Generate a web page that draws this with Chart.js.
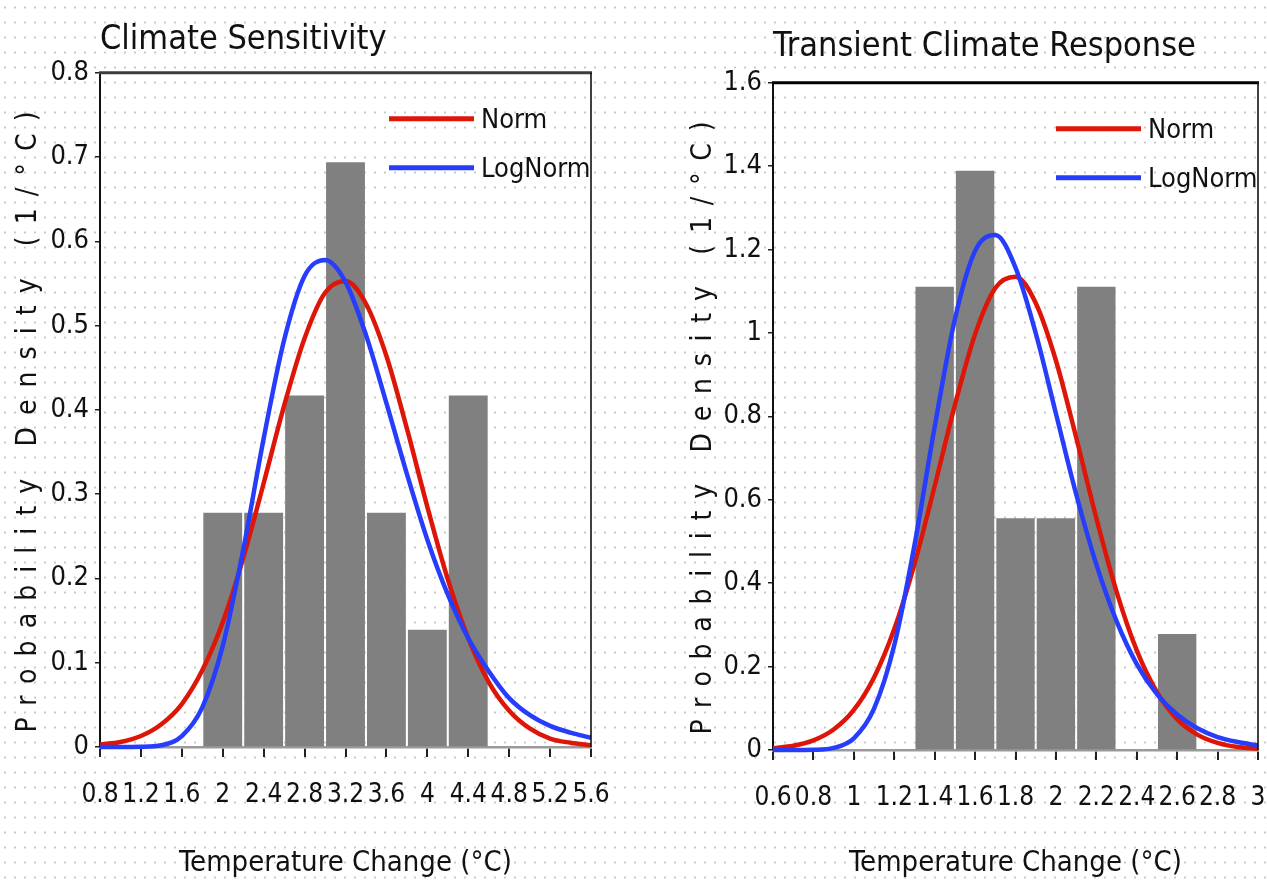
<!DOCTYPE html>
<html>
<head>
<meta charset="utf-8">
<title>Climate Sensitivity / Transient Climate Response</title>
<script src="https://cdn.jsdelivr.net/npm/chart.js@4.4.1/dist/chart.umd.min.js"></script>
<style>
  html, body { margin: 0; padding: 0; }
  body {
    width: 1267px; height: 886px; overflow: hidden; position: relative;
    background-color: #fff;
    background-image: radial-gradient(circle, #c8c8c8 0.9px, transparent 1.3px);
    background-size: 10px 15px;
  }
  .panel { position: absolute; top: 0; height: 886px; }
  #panelCS { left: 0; width: 633px; }
  #panelTCR { left: 633px; width: 634px; }
</style>
</head>
<body>
<div class="panel" id="panelCS"><canvas id="chartCS"></canvas></div>
<div class="panel" id="panelTCR"><canvas id="chartTCR"></canvas></div>
<script>
// Climate sensitivity: histogram (bin centres, 0.4 wide) and fitted curves
const csBinCenters = [2.0, 2.4, 2.8, 3.2, 3.6, 4.0, 4.4];
const csDensity = [0.278, 0.278, 0.417, 0.694, 0.278, 0.139, 0.417];
const csCurveX = [0.8, 1.0, 1.2, 1.4, 1.6, 1.8, 2.0, 2.2, 2.4, 2.6, 2.8, 3.0, 3.2,
                  3.4, 3.6, 3.8, 4.0, 4.2, 4.4, 4.6, 4.8, 5.0, 5.2, 5.4, 5.6];
const csNorm = [0.003, 0.006, 0.013, 0.027, 0.051, 0.091, 0.148, 0.224, 0.313, 0.405, 0.485, 0.539, 0.553,
                0.526, 0.464, 0.378, 0.285, 0.199, 0.129, 0.077, 0.043, 0.022, 0.010, 0.005, 0.002];
const csLogNorm = [0, 0, 0.0002, 0.002, 0.013, 0.047, 0.120, 0.234, 0.366, 0.483, 0.559, 0.578, 0.552,
                   0.489, 0.408, 0.324, 0.246, 0.181, 0.129, 0.090, 0.058, 0.038, 0.025, 0.017, 0.011];
const csXTicks = [0.8, 1.2, 1.6, 2.0, 2.4, 2.8, 3.2, 3.6, 4.0, 4.4, 4.8, 5.2, 5.6];
const csYTicks = [0, 0.1, 0.2, 0.3, 0.4, 0.5, 0.6, 0.7, 0.8];

// Transient climate response: histogram (bin centres, 0.2 wide) and fitted curves
const tcrBinCenters = [1.4, 1.6, 1.8, 2.0, 2.2, 2.4, 2.6];
const tcrDensity = [1.111, 1.389, 0.556, 0.556, 1.111, 0, 0.278];
const tcrCurveX = [0.6, 0.7, 0.8, 0.9, 1.0, 1.1, 1.2, 1.3, 1.4, 1.5, 1.6, 1.7, 1.8,
                   1.9, 2.0, 2.1, 2.2, 2.3, 2.4, 2.5, 2.6, 2.7, 2.8, 2.9, 3.0];
const tcrNorm = [0.004, 0.010, 0.023, 0.049, 0.096, 0.174, 0.290, 0.446, 0.633, 0.827, 0.997, 1.108, 1.135,
                 1.072, 0.934, 0.750, 0.556, 0.380, 0.239, 0.139, 0.074, 0.037, 0.017, 0.007, 0.003];
const tcrLogNorm = [0, 0, 0.0005, 0.005, 0.028, 0.099, 0.251, 0.491, 0.775, 1.033, 1.197, 1.235, 1.157,
                    1.000, 0.807, 0.614, 0.445, 0.309, 0.206, 0.134, 0.085, 0.052, 0.031, 0.019, 0.011];
const tcrXTicks = [0.6, 0.8, 1.0, 1.2, 1.4, 1.6, 1.8, 2.0, 2.2, 2.4, 2.6, 2.8, 3.0];
const tcrYTicks = [0, 0.2, 0.4, 0.6, 0.8, 1.0, 1.2, 1.4, 1.6];

const FONT = "'DejaVu Sans Condensed', 'Liberation Sans Narrow', 'Liberation Sans', sans-serif";
const RED = 'rgb(222, 22, 8)';
const BLUE = 'rgb(38, 62, 252)';
const fmt = v => String(Number(v.toFixed(1)));

// top/right frame, legend inside the plot, spaced-out y title
const decorPlugin = {
    id: 'decor',
    afterDatasetsDraw(chart, args, opts) {
        const ctx = chart.ctx;
        const a = chart.chartArea;
        ctx.save();
        ctx.lineCap = 'butt';
        ctx.strokeStyle = opts.topColor;
        ctx.lineWidth = 3;
        ctx.beginPath(); ctx.moveTo(a.left - 1, a.top); ctx.lineTo(a.right + 1, a.top); ctx.stroke();
        ctx.strokeStyle = '#111';
        ctx.lineWidth = 1.6;
        ctx.beginPath(); ctx.moveTo(a.right, a.top); ctx.lineTo(a.right, a.bottom); ctx.stroke();

        // legend, in dataset order (Norm first)
        const lines = chart.data.datasets.filter(d => d.type === 'line');
        ctx.font = '27px ' + FONT;
        ctx.textBaseline = 'middle';
        ctx.textAlign = 'left';
        lines.forEach((d, i) => {
            const y = a.top + opts.legendTop + i * 49;
            ctx.strokeStyle = d.borderColor;
            ctx.lineWidth = 5;
            ctx.beginPath(); ctx.moveTo(a.right - 202, y); ctx.lineTo(a.right - 117, y); ctx.stroke();
            ctx.fillStyle = '#111';
            ctx.fillText(d.label, a.right - 110, y + 2);
        });
        ctx.restore();
    },
    afterDraw(chart, args, opts) {
        const ctx = chart.ctx;
        const text = 'Probability Density (1/°C)';
        ctx.save();
        ctx.font = '28px ' + FONT;
        ctx.fillStyle = '#111';
        ctx.textBaseline = 'middle';
        ctx.textAlign = 'left';
        const w = ctx.measureText(text).width;
        const gap = (opts.titleLength - w) / (text.length - 1);
        if ('letterSpacing' in ctx) ctx.letterSpacing = gap + 'px';
        ctx.translate(opts.titleX, opts.titleY);
        ctx.rotate(-Math.PI / 2);
        ctx.fillText(text, -opts.titleLength / 2, 0);
        ctx.restore();
    }
};

function makeChart(canvasId, p) {
    const ctx = document.getElementById(canvasId).getContext('2d');
    return new Chart(ctx, {
        type: 'line',
        data: {
            datasets: [
                {
                    type: 'line',
                    label: 'Norm',
                    data: p.curveX.map((x, i) => ({ x: x, y: p.norm[i] })),
                    borderColor: RED,
                    borderWidth: 4.5,
                    pointRadius: 0,
                    cubicInterpolationMode: 'monotone',
                    clip: 8,
                    order: 2
                },
                {
                    type: 'line',
                    label: 'LogNorm',
                    data: p.curveX.map((x, i) => ({ x: x, y: p.logNorm[i] })),
                    borderColor: BLUE,
                    borderWidth: 4.5,
                    pointRadius: 0,
                    cubicInterpolationMode: 'monotone',
                    clip: 8,
                    order: 1
                },
                {
                    type: 'bar',
                    label: 'Histogram',
                    data: p.binCenters.map((x, i) => ({ x: x, y: p.density[i] })),
                    backgroundColor: 'rgb(128, 128, 128)',
                    borderWidth: 0,
                    barPercentage: 0.95,
                    categoryPercentage: 1.0,
                    order: 3
                }
            ]
        },
        options: {
            responsive: true,
            maintainAspectRatio: false,
            animation: false,
            devicePixelRatio: 1,
            layout: { padding: { left: 0, right: p.padRight, top: 0, bottom: 0 } },
            plugins: {
                legend: { display: false },
                tooltip: { enabled: false },
                title: {
                    display: true,
                    text: p.title,
                    align: 'start',
                    fullSize: false,
                    color: '#111',
                    font: { family: FONT, size: 34, weight: 'normal' },
                    padding: { top: p.titleTop, bottom: p.titleBottom }
                },
                decor: {
                    topColor: p.topColor,
                    legendTop: 46,
                    titleX: p.yTitleX,
                    titleY: p.yTitleY,
                    titleLength: p.yTitleLength
                }
            },
            scales: {
                x: {
                    type: 'linear',
                    min: p.xTicks[0],
                    max: p.xTicks[p.xTicks.length - 1],
                    offset: false,
                    afterBuildTicks: s => { s.ticks = p.xTicks.map(v => ({ value: v })); },
                    afterFit: s => { s.height = p.xHeight; s.paddingLeft = 0; s.paddingRight = 0; },
                    border: { display: true, color: '#9a9a9a', width: 2.5 },
                    grid: { drawOnChartArea: false, drawTicks: true, tickLength: 10, color: '#222', lineWidth: 2, offset: false },
                    ticks: {
                        autoSkip: false, maxRotation: 0, minRotation: 0, padding: 23,
                        color: '#111', font: { family: FONT, size: 26 },
                        callback: v => fmt(v)
                    },
                    title: {
                        display: true,
                        text: 'Temperature Change (°C)',
                        color: '#111',
                        font: { family: FONT, size: 29 },
                        padding: { top: 0, bottom: 5 }
                    }
                },
                y: {
                    type: 'linear',
                    min: 0,
                    max: p.yTicks[p.yTicks.length - 1],
                    afterBuildTicks: s => { s.ticks = p.yTicks.map(v => ({ value: v })); },
                    afterFit: s => { s.width = p.yWidth; },
                    border: { display: true, color: '#111', width: 2 },
                    grid: { drawOnChartArea: false, drawTicks: true, tickLength: 5, color: '#222', lineWidth: 1.5 },
                    ticks: {
                        padding: 6, color: '#111', font: { family: FONT, size: 27 },
                        callback: v => fmt(v)
                    }
                }
            }
        },
        plugins: [decorPlugin]
    });
}

const chartCS = makeChart('chartCS', {
    title: 'Climate Sensitivity',
    binCenters: csBinCenters, density: csDensity,
    curveX: csCurveX, norm: csNorm, logNorm: csLogNorm,
    xTicks: csXTicks, yTicks: csYTicks,
    padRight: 42, yWidth: 100, xHeight: 139, titleTop: 20, titleBottom: 12, topColor: '#3c3c3c',
    yTitleX: 29, yTitleY: 422, yTitleLength: 621
});

const chartTCR = makeChart('chartTCR', {
    title: 'Transient Climate Response',
    binCenters: tcrBinCenters, density: tcrDensity,
    curveX: tcrCurveX, norm: tcrNorm, logNorm: tcrLogNorm,
    xTicks: tcrXTicks, yTicks: tcrYTicks,
    padRight: 9, yWidth: 140, xHeight: 136, titleTop: 27, titleBottom: 15, topColor: '#000',
    yTitleX: 71, yTitleY: 428, yTitleLength: 613
});
</script>
</body>
</html>
